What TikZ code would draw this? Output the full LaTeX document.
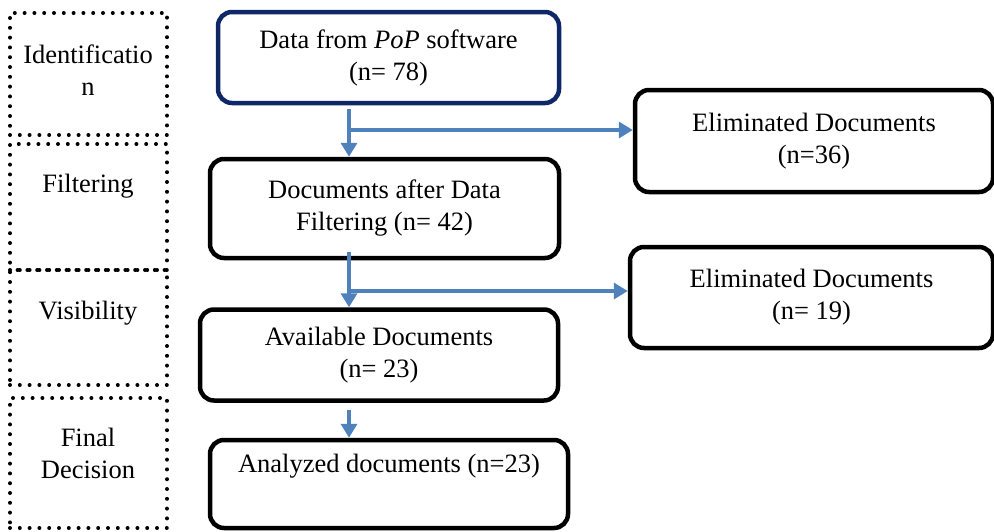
\documentclass[tikz,border=0pt]{standalone}
\usepackage{fontspec}
\setmainfont{Liberation Serif}
\usetikzlibrary{arrows.meta}
\definecolor{navy}{HTML}{0F2766}
\definecolor{arrblue}{HTML}{4F81BD}
\begin{document}
\begin{tikzpicture}[x=1pt,y=-1pt,
  every node/.style={font=\fontsize{26.5}{32}\selectfont, align=center, inner sep=0pt},
  mainbox/.style={draw=black, line width=4.5pt, rounded corners=14pt},
  topbox/.style={draw=navy, line width=4.5pt, rounded corners=14pt},
  dotbox/.style={draw=black, line width=4pt, dash pattern=on 0pt off 9.8pt, line cap=round},
  arr/.style={draw=arrblue, line width=4.8pt, -{Triangle[width=16pt,length=14pt]}}
]
\useasboundingbox (0,0) rectangle (994,531);

% left stage boxes
\node[dotbox, minimum width=157pt, minimum height=122pt] (p1) at (88.5,74) {};
\node (p1t) at (88,70) {Identificatio\\n};
\node[dotbox, minimum width=157pt, minimum height=126pt] (p2) at (88.5,207) {};
\node (p2t) at (88,186) {Filtering};
\node[dotbox, minimum width=157pt, minimum height=115pt] (p3) at (88.5,327.5) {};
\node (p3t) at (88,313) {Visibility};
\node[dotbox, minimum width=157pt, minimum height=130pt] (p4) at (88.5,463) {};
\node (p4t) at (88,453) {Final\\Decision};

% main boxes
\node[topbox, minimum width=341pt, minimum height=91pt] (b1) at (388.5,57.5) {Data from \textit{PoP} software\\(n= 78)};
\node[mainbox, minimum width=349pt, minimum height=99pt] (b2) at (384.5,208.5) {Documents after Data\\Filtering (n= 42)};
\node[mainbox, minimum width=358pt, minimum height=91pt] (b3) at (379,355) {Available Documents\\(n= 23)};
\node[mainbox, minimum width=358pt, minimum height=88pt] (b4) at (389,484) {Analyzed documents (n=23)\\\strut};
\node[mainbox, minimum width=358pt, minimum height=102pt] (e1) at (814,141) {Eliminated Documents\\(n=36)};
\node[mainbox, minimum width=363pt, minimum height=101pt] (e2) at (811.5,297.5) {Eliminated Documents\\(n= 19)};

% connectors
\coordinate (s1) at (349,109);
\coordinate (j1) at (349,130);
\draw[arr] (s1) -- (s1 |- b2.north);
\draw[arr] (j1) -- (j1 -| e1.west);
\coordinate (s2) at (349,252);
\coordinate (j2) at (349,291);
\draw[arr] (s2) -- (s2 |- b3.north);
\draw[arr] (j2) -- (j2 -| e2.west);
\coordinate (s3) at (349,410);
\draw[arr] (s3) -- (s3 |- b4.north);
\end{tikzpicture}
\end{document}
